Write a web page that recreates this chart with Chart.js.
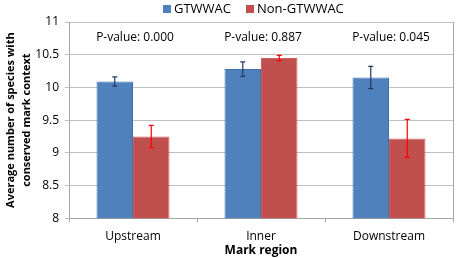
<!DOCTYPE html>
<html>
<head>
<meta charset="utf-8">
<script src="https://cdn.jsdelivr.net/npm/chart.js@4"></script>
<style>
  html, body { margin: 0; padding: 0; background: #fff; }
  #wrap { width: 459px; height: 258px; }
</style>
</head>
<body>
<div id="wrap"><canvas id="myBarChart" width="459" height="258"></canvas></div>
<script>
const regions = ['Upstream', 'Inner', 'Downstream'];
const gtwwac = [10.09, 10.28, 10.15];
const gtwwacErr = [0.07, 0.11, 0.17];
const nonGtwwac = [9.25, 10.45, 9.22];
const nonGtwwacErr = [0.17, 0.04, 0.29];
const pValues = ['P-value: 0.000', 'P-value: 0.887', 'P-value: 0.045'];

const errors = [gtwwacErr, nonGtwwacErr];
const errColors = ['#1f3864', '#ff0000'];
const legendX = [163, 246];

// error bars, p-value labels, legend and plot frame
const extras = {
    id: 'extras',
    afterDatasetsDraw(chart) {
        const ctx = chart.ctx;
        const yScale = chart.scales.y;
        const xScale = chart.scales.x;
        const area = chart.chartArea;
        ctx.save();
        chart.data.datasets.forEach((ds, i) => {
            const meta = chart.getDatasetMeta(i);
            meta.data.forEach((bar, j) => {
                const v = ds.data[j];
                const e = errors[i][j];
                const top = yScale.getPixelForValue(v + e);
                const bot = yScale.getPixelForValue(v - e);
                ctx.strokeStyle = errColors[i];
                ctx.lineWidth = 1.2;
                ctx.beginPath();
                ctx.moveTo(bar.x, top); ctx.lineTo(bar.x, bot);
                ctx.moveTo(bar.x - 2.5, top); ctx.lineTo(bar.x + 2.5, top);
                ctx.moveTo(bar.x - 2.5, bot); ctx.lineTo(bar.x + 2.5, bot);
                ctx.stroke();
            });
            // legend entry
            ctx.fillStyle = ds.backgroundColor;
            ctx.fillRect(legendX[i], 5, 8, 8);
            ctx.fillStyle = '#000';
            ctx.font = '13px "Open Sans", sans-serif';
            ctx.textAlign = 'left';
            ctx.textBaseline = 'middle';
            ctx.fillText(ds.label, legendX[i] + 11, 9.5);
        });
        ctx.fillStyle = '#000';
        ctx.font = '12px "Open Sans", sans-serif';
        ctx.textAlign = 'center';
        ctx.textBaseline = 'middle';
        pValues.forEach((t, j) => {
            ctx.fillText(t, xScale.getPixelForValue(j) + 2, area.top + 16);
        });
        ctx.strokeStyle = '#a6a6a6';
        ctx.lineWidth = 1;
        ctx.beginPath();
        ctx.moveTo(Math.round(area.right) + 0.5, area.top);
        ctx.lineTo(Math.round(area.right) + 0.5, area.bottom);
        ctx.stroke();
        ctx.restore();
    }
};

const ctx = document.getElementById('myBarChart').getContext('2d');
const myChart = new Chart(ctx, {
    type: 'bar',
    data: {
        labels: regions,
        datasets: [{
            label: 'GTWWAC',
            data: gtwwac,
            backgroundColor: '#4f81bd',
            borderColor: '#3f6fa8',
            borderWidth: 1
        }, {
            label: 'Non-GTWWAC',
            data: nonGtwwac,
            backgroundColor: '#c0504d',
            borderColor: '#d0605d',
            borderWidth: 1
        }]
    },
    plugins: [extras],
    options: {
        responsive: false,
        animation: false,
        categoryPercentage: 0.57,
        barPercentage: 1,
        layout: { padding: { left: 3, right: 6, top: 22, bottom: 0 } },
        plugins: {
            tooltip: { enabled: false },
            legend: { display: false }
        },
        scales: {
            x: {
                grid: { drawOnChartArea: false, tickLength: 4, color: '#a6a6a6' },
                border: { color: '#a6a6a6' },
                ticks: { color: '#000', font: { family: '"Open Sans", sans-serif', size: 12 }, padding: 7 },
                title: {
                    display: true,
                    text: 'Mark region',
                    color: '#000',
                    padding: { top: -7, bottom: 0 },
                    font: { family: '"Open Sans", sans-serif', size: 12, weight: 'bold' }
                }
            },
            y: {
                min: 8,
                max: 11,
                ticks: {
                    stepSize: 0.5,
                    color: '#000',
                    font: { family: '"Open Sans", sans-serif', size: 12 },
                    padding: 6,
                    callback: (v) => String(v)
                },
                grid: { color: '#bfbfbf', tickLength: 4 },
                border: { color: '#a6a6a6' },
                title: {
                    display: true,
                    text: ['Average number of species with', 'conserved mark context'],
                    color: '#000',
                    padding: { top: 0, bottom: 2 },
                    font: { family: '"Open Sans", sans-serif', size: 11, weight: 'bold', lineHeight: 1.45 }
                },
                afterFit: (s) => { s.width = 66; }
            }
        }
    }
});
</script>
</body>
</html>
